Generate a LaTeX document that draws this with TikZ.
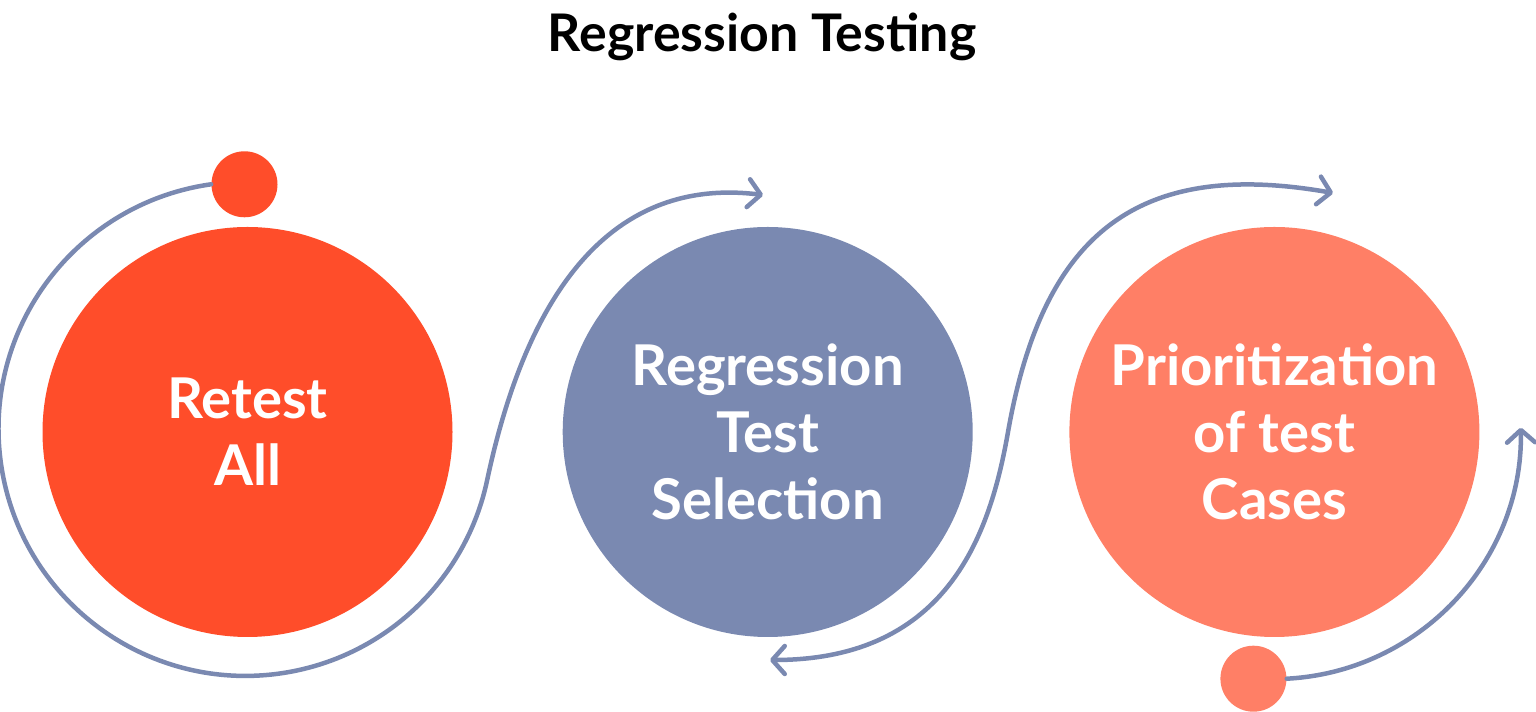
\documentclass[tikz,border=0pt]{standalone}
\usepackage{fontspec}
\setmainfont{Lato}
\usepackage{xcolor}
\usetikzlibrary{arrows.meta, positioning}

\definecolor{rojo}{HTML}{FF4D2A}
\definecolor{azul}{HTML}{7A89B1}
\definecolor{salmon}{HTML}{FF7F66}

\begin{document}
\begin{tikzpicture}[
  >={Straight Barb[length=2.5mm, width=5.6mm, round]},
  circulo/.style={circle, inner sep=0pt, minimum size=8.2cm, align=center,
                  text=white, font=\bfseries\fontsize{32}{38.2}\selectfont},
  punto/.style={circle, inner sep=0pt, minimum size=1.32cm},
  linea/.style={draw=azul, line width=0.9mm, line cap=round},
  flecha/.style={linea, ->},
  doble/.style={linea, <->}
]
\useasboundingbox (0,0) rectangle (30.72,14.24);

\node[font=\bfseries\fontsize{29.5}{35}\selectfont, anchor=base] (titulo) at (15.24,13.2) {Regression Testing};

\node[circulo, fill=rojo] (retest) at (4.95,5.6) {Retest\\All};
\node[circulo, fill=azul, right=2.19cm of retest] (seleccion) {Regression\\Test\\Selection};
\node[circulo, fill=salmon, right=1.92cm of seleccion] (prioridad) {Prioritization\\of test\\Cases};

\node[punto, fill=rojo, above=0.18cm of retest, xshift=-0.06cm] (punto1) {};
\node[punto, fill=salmon, below=0.16cm of prioridad, xshift=-0.42cm] (punto2) {};

\coordinate (fin1) at (15.26,10.34);
\coordinate (ini2) at (15.40,1.04);
\coordinate (inflexion) at (20.16,5.60);
\coordinate (fin2) at (26.66,10.38);

\draw[flecha] (punto1.west) arc[start angle=98, end angle=348, radius=4.94cm]
  to[out=78, in=173, out distance=3.6cm, in distance=3.2cm] (fin1);
\draw[doble] (ini2) to[out=0, in=260, out distance=3.6cm, in distance=2cm] (inflexion)
  to[out=80, in=170, out distance=4cm, in distance=4cm] (fin2);
\draw[flecha] (punto2.east) arc[start angle=-87, end angle=1, radius=4.94cm];
\end{tikzpicture}
\end{document}
